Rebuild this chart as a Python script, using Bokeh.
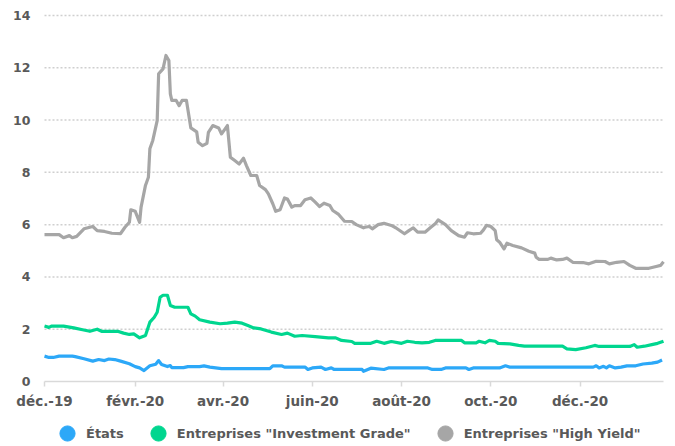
import pandas as pd
from bokeh.plotting import figure
from bokeh.models import FixedTicker, Legend, LegendItem, Range1d, ColumnDataSource
from bokeh.embed import file_html
from bokeh.resources import INLINE

# ---------------- data ----------------
hy_dates = ["2019-12-01","2019-12-11","2019-12-14","2019-12-18","2019-12-20","2019-12-23","2019-12-28",
            "2020-01-03","2020-01-06","2020-01-11","2020-01-16","2020-01-22","2020-01-25","2020-01-28","2020-01-29",
            "2020-02-01","2020-02-04","2020-02-05","2020-02-08","2020-02-10","2020-02-11","2020-02-13","2020-02-16",
            "2020-02-17","2020-02-20","2020-02-22","2020-02-24","2020-02-25","2020-02-26","2020-02-29",
            "2020-03-02","2020-03-04","2020-03-07","2020-03-10","2020-03-14","2020-03-15","2020-03-18","2020-03-21",
            "2020-03-22","2020-03-25","2020-03-29","2020-03-31",
            "2020-04-04","2020-04-06","2020-04-09","2020-04-12","2020-04-15","2020-04-17","2020-04-20","2020-04-24",
            "2020-04-26","2020-04-30",
            "2020-05-02","2020-05-05","2020-05-07","2020-05-10","2020-05-13","2020-05-15","2020-05-18","2020-05-20",
            "2020-05-24","2020-05-27","2020-05-31",
            "2020-06-03","2020-06-06","2020-06-09","2020-06-13","2020-06-15","2020-06-19","2020-06-23","2020-06-28",
            "2020-07-01","2020-07-06","2020-07-07","2020-07-10","2020-07-12","2020-07-16","2020-07-20","2020-07-25",
            "2020-07-28",
            "2020-08-03","2020-08-06","2020-08-09","2020-08-12","2020-08-17","2020-08-21","2020-08-24","2020-08-26",
            "2020-08-31",
            "2020-09-04","2020-09-09","2020-09-13","2020-09-15","2020-09-19","2020-09-24","2020-09-26","2020-09-28",
            "2020-10-01","2020-10-04","2020-10-05","2020-10-07","2020-10-10","2020-10-12","2020-10-16","2020-10-22",
            "2020-10-27","2020-10-31",
            "2020-11-01","2020-11-03","2020-11-09","2020-11-11","2020-11-15","2020-11-19","2020-11-22","2020-11-26",
            "2020-12-03","2020-12-07","2020-12-12","2020-12-18","2020-12-21","2020-12-26","2020-12-31",
            "2021-01-04","2021-01-08","2021-01-17","2021-01-22","2021-01-25","2021-01-27"]
hy_values = [5.62,5.62,5.5,5.58,5.5,5.55,5.84,
             5.93,5.77,5.74,5.67,5.66,5.9,6.09,6.57,
             6.51,6.09,6.67,7.5,7.81,8.9,9.22,9.98,
             11.77,11.96,12.47,12.28,11.0,10.75,10.75,
             10.55,10.75,10.75,9.7,9.55,9.15,9.02,9.11,
             9.53,9.79,9.7,9.47,
             9.79,8.58,8.45,8.32,8.54,8.26,7.88,7.88,
             7.5,7.34,
             7.18,6.8,6.51,6.57,7.02,6.98,6.67,6.73,
             6.73,6.95,7.02,
             6.86,6.69,6.82,6.73,6.54,6.39,6.13,6.12,
             6.0,5.88,5.9,5.93,5.84,6.0,6.05,5.97,
             5.88,
             5.65,5.77,5.88,5.71,5.71,5.9,6.03,6.18,
             6.0,
             5.77,5.58,5.52,5.69,5.65,5.67,5.8,5.97,
             5.93,5.77,5.42,5.33,5.07,5.29,5.2,5.11,
             4.98,4.91,
             4.75,4.67,4.67,4.72,4.65,4.67,4.72,4.56,
             4.55,4.5,4.6,4.59,4.5,4.56,4.59,
             4.44,4.33,4.33,4.4,4.44,4.58]

ig_dates = ["2019-12-01","2019-12-04","2019-12-06","2019-12-14","2019-12-21","2019-12-27",
            "2020-01-01","2020-01-06","2020-01-09","2020-01-20","2020-01-24","2020-01-28","2020-01-31",
            "2020-02-04","2020-02-08","2020-02-11","2020-02-14","2020-02-16","2020-02-18","2020-02-20","2020-02-23",
            "2020-02-25","2020-02-28",
            "2020-03-08","2020-03-10","2020-03-13","2020-03-16","2020-03-23","2020-03-30",
            "2020-04-04","2020-04-09","2020-04-14","2020-04-18","2020-04-22","2020-04-27",
            "2020-05-04","2020-05-11","2020-05-15","2020-05-20","2020-05-25",
            "2020-06-03","2020-06-12","2020-06-17","2020-06-21","2020-06-28","2020-06-30",
            "2020-07-11","2020-07-15","2020-07-20","2020-07-25",
            "2020-08-01","2020-08-05","2020-08-10","2020-08-15","2020-08-20","2020-08-24",
            "2020-09-11","2020-09-13","2020-09-21","2020-09-23","2020-09-27","2020-09-30",
            "2020-10-04","2020-10-06","2020-10-14","2020-10-20","2020-10-24",
            "2020-11-19","2020-11-22","2020-11-28",
            "2020-12-05","2020-12-11","2020-12-14",
            "2021-01-04","2021-01-07","2021-01-09","2021-01-14","2021-01-19","2021-01-23","2021-01-27"]
ig_values = [2.12,2.07,2.12,2.12,2.05,1.98,
             1.92,2.0,1.92,1.92,1.85,1.8,1.82,
             1.67,1.76,2.27,2.46,2.65,3.22,3.3,3.3,
             2.91,2.84,
             2.84,2.59,2.5,2.36,2.27,2.21,
             2.23,2.27,2.23,2.14,2.05,2.01,
             1.89,1.8,1.85,1.73,1.76,
             1.72,1.67,1.67,1.57,1.53,1.46,
             1.46,1.54,1.46,1.53,
             1.46,1.54,1.5,1.48,1.5,1.57,
             1.57,1.48,1.48,1.54,1.48,1.57,
             1.54,1.46,1.44,1.38,1.35,
             1.35,1.25,1.22,
             1.29,1.38,1.34,
             1.34,1.41,1.31,1.35,1.41,1.46,1.54]

gov_dates = ["2019-12-01","2019-12-04","2019-12-07","2019-12-11","2019-12-20","2019-12-22","2019-12-28",
             "2020-01-03","2020-01-07","2020-01-11","2020-01-14","2020-01-18","2020-01-22","2020-01-28",
             "2020-02-01","2020-02-04","2020-02-07","2020-02-11","2020-02-15","2020-02-17","2020-02-19","2020-02-23",
             "2020-02-25","2020-02-26",
             "2020-03-05","2020-03-08","2020-03-16","2020-03-19","2020-03-23","2020-03-31",
             "2020-05-03","2020-05-05","2020-05-11","2020-05-13","2020-05-27","2020-05-29",
             "2020-06-01","2020-06-07","2020-06-10","2020-06-14","2020-06-16",
             "2020-07-05","2020-07-06","2020-07-11","2020-07-20","2020-07-23",
             "2020-08-19","2020-08-22","2020-08-28","2020-08-31",
             "2020-09-14","2020-09-16","2020-09-19",
             "2020-10-07","2020-10-11","2020-10-14",
             "2020-12-10","2020-12-12","2020-12-14","2020-12-17","2020-12-19","2020-12-21","2020-12-25","2020-12-29",
             "2021-01-02","2021-01-08","2021-01-13","2021-01-19","2021-01-23","2021-01-26"]
gov_values = [0.97,0.92,0.92,0.97,0.97,0.95,0.87,
              0.78,0.84,0.8,0.86,0.84,0.78,0.68,
              0.57,0.52,0.42,0.6,0.66,0.8,0.65,0.57,
              0.61,0.53,
              0.53,0.57,0.57,0.6,0.55,0.49,
              0.49,0.6,0.6,0.55,0.55,0.46,
              0.52,0.55,0.46,0.52,0.46,
              0.46,0.39,0.51,0.46,0.52,
              0.52,0.46,0.46,0.52,
              0.52,0.46,0.52,
              0.52,0.6,0.55,
              0.55,0.6,0.52,0.58,0.52,0.6,0.52,0.55,
              0.6,0.6,0.67,0.7,0.74,0.82]

series_names = ["États", 'Entreprises "Investment Grade"', 'Entreprises "High Yield"']
series_colors = ["#2CA8F8", "#00D68F", "#A6A6A6"]

tick_dates = ["2019-12-01", "2020-02-01", "2020-04-01", "2020-06-01", "2020-08-01", "2020-10-01", "2020-12-01"]
tick_labels = ["déc.-19", "févr.-20", "avr.-20", "juin-20", "août-20", "oct.-20", "déc.-20"]
y_ticks = [0, 2, 4, 6, 8, 10, 12, 14]
x_start, x_end = "2019-12-01", "2021-01-27"

# ---------------- layout (pixels) ----------------
W, H = 675, 446
PLOT_L, PLOT_R, PLOT_T, PLOT_B = 44, 663, 15, 381   # plotting area inside the canvas
TEXT = "#595959"
FONT = "DejaVu Sans"


def ms(s):
    return float(pd.Timestamp(s).value // 10**6)


y0v, y1v = y_ticks[0], y_ticks[-1]
ypp = (y1v - y0v) / (PLOT_B - PLOT_T)
xs, xe = ms(x_start), ms(x_end)
xpp = (xe - xs) / (PLOT_R - PLOT_L)

p = figure(width=W, height=H, x_axis_type="datetime", output_backend="svg",
           toolbar_location=None, min_border=0,
           x_range=Range1d(xs - PLOT_L * xpp, xe + (W - PLOT_R) * xpp),
           y_range=Range1d(y0v - (H - PLOT_B) * ypp, y1v + PLOT_T * ypp))
# range used only by the legend-swatch renderers, so that they stay out of sight
p.extra_y_ranges = {"swatch": Range1d(1000, 2000)}
p.outline_line_color = None
p.background_fill_color = "white"
p.border_fill_color = "white"
p.xgrid.grid_line_color = None
p.ygrid.grid_line_color = None

# dotted horizontal gridlines between the start and the end of the series
gl = y_ticks[1:]
p.segment(x0=[pd.Timestamp(x_start)] * len(gl), x1=[pd.Timestamp(x_end)] * len(gl), y0=gl, y1=gl,
          line_color="#CFCFCF", line_dash="2 2", line_width=1.5)

legend_renderers = []
for d, v, c in [(gov_dates, gov_values, series_colors[0]),
                (ig_dates, ig_values, series_colors[1]),
                (hy_dates, hy_values, series_colors[2])]:
    src = ColumnDataSource(dict(x=pd.to_datetime(d), y=v))
    p.line("x", "y", source=src, line_color=c, line_width=3.2, line_join="round")
    # legend swatch: same data on an off-screen range, drawn in the legend as a round dot
    r = p.scatter("x", "y", source=src, y_range_name="swatch", marker="circle",
                  fill_color=c, line_color=c)
    legend_renderers.append(r)

items = [LegendItem(label=n, renderers=[r]) for n, r in zip(series_names, legend_renderers)]
legend = Legend(items=items, orientation="horizontal", location=(48, -6),
                glyph_width=38, glyph_height=38, label_standoff=0, spacing=15,
                padding=0, margin=0, border_line_color=None, background_fill_alpha=0,
                label_text_font=FONT, label_text_font_style="bold",
                label_text_font_size="13px", label_text_color=TEXT)
p.add_layout(legend)

# axes
xa = p.xaxis[0]
xa.fixed_location = 0
xa.bounds = (xs, xe)
xa.ticker = FixedTicker(ticks=[ms(t) for t in tick_dates])
xa.major_label_overrides = {ms(t): l for t, l in zip(tick_dates, tick_labels)}
xa.axis_line_color = "#D9D9D9"
xa.axis_line_width = 1.5
xa.major_tick_line_color = "#D9D9D9"
xa.major_tick_line_width = 1.5
xa.major_tick_in = 0
xa.major_tick_out = 5
xa.minor_tick_line_color = None
xa.major_label_standoff = 6
xa.major_label_text_font = FONT
xa.major_label_text_font_style = "bold"
xa.major_label_text_font_size = "13.5px"
xa.major_label_text_color = TEXT

ya = p.yaxis[0]
ya.fixed_location = xs
ya.bounds = (y0v, y1v)
ya.ticker = FixedTicker(ticks=y_ticks)
ya.axis_line_color = None
ya.major_tick_line_color = None
ya.minor_tick_line_color = None
ya.major_tick_out = 0
ya.major_tick_in = 0
ya.major_label_standoff = 14
ya.major_label_text_font = FONT
ya.major_label_text_font_style = "bold"
ya.major_label_text_font_size = "12.5px"
ya.major_label_text_color = TEXT

open("out.html", "w").write(file_html(p, INLINE))
